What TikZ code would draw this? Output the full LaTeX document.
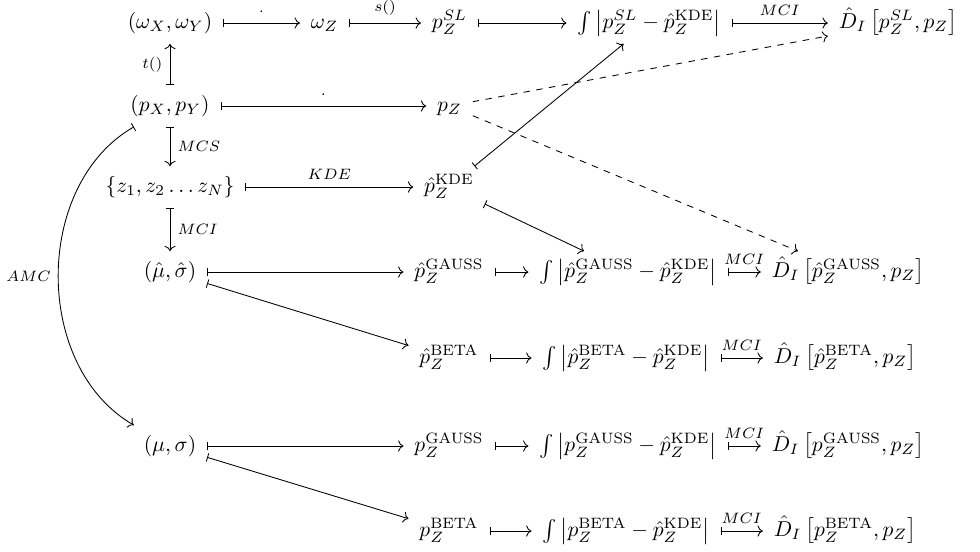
\documentclass[tikz,border=0pt]{standalone}
\usetikzlibrary{arrows.meta}
\begin{document}
\begin{tikzpicture}[x=0.465pt, y=-0.465pt,
  obj/.style={inner xsep=4.9pt, inner ysep=3pt, text height=9pt, text depth=4pt},
  mapto/.style={{Bar[width=4pt]}-{Computer Modern Rightarrow}},
  dasharrow/.style={dashed, -{Computer Modern Rightarrow}},
  lbl/.style={font=\scriptsize},
]
\useasboundingbox (0,0) rectangle (980,551);
% row 1
\node[obj] (omXY) at (170,23) {$(\omega_X, \omega_Y)$};
\node[obj] (omZ) at (324.5,23) {$\omega_Z$};
\node[obj] (pSL) at (449.5,23) {$p_Z^{SL}$};
\node[obj] (intSL) at (649,23) {$\int \left|p_Z^{SL} - \hat{p}_Z^{\mathrm{KDE}}\right|$};
\node[obj] (DSL) at (898,23) {$\hat{D}_I \left[p_Z^{SL}, p_Z\right]$};
% row 2
\node[obj] (pXY) at (170,106) {$(p_X, p_Y)$};
\node[obj] (pZ) at (449.5,106) {$p_Z$};
% row 3
\node[obj] (zs) at (170,187) {$\{z_1, z_2 \ldots z_N\}$};
\node[obj] (kde) at (449,187) {$\hat{p}_Z^{\mathrm{KDE}}$};
% row 4
\node[obj] (muh) at (170,272) {$(\hat{\mu}, \hat{\sigma})$};
\node[obj] (gh) at (449,272) {$\hat{p}_Z^{\mathrm{GAUSS}}$};
\node[obj] (igh) at (628,272) {$\int \left|\hat{p}_Z^{\mathrm{GAUSS}} - \hat{p}_Z^{\mathrm{KDE}}\right|$};
\node[obj] (Dgh) at (848,272) {$\hat{D}_I \left[\hat{p}_Z^{\mathrm{GAUSS}}, p_Z\right]$};
% row 5
\node[obj] (bh) at (449,358) {$\hat{p}_Z^{\mathrm{BETA}}$};
\node[obj] (ibh) at (626,358) {$\int \left|\hat{p}_Z^{\mathrm{BETA}} - \hat{p}_Z^{\mathrm{KDE}}\right|$};
\node[obj] (Dbh) at (845,358) {$\hat{D}_I \left[\hat{p}_Z^{\mathrm{BETA}}, p_Z\right]$};
% row 6
\node[obj] (mu) at (170,446) {$(\mu, \sigma)$};
\node[obj] (g) at (449,446) {$p_Z^{\mathrm{GAUSS}}$};
\node[obj] (ig) at (628,446) {$\int \left|p_Z^{\mathrm{GAUSS}} - \hat{p}_Z^{\mathrm{KDE}}\right|$};
\node[obj] (Dg) at (848,446) {$\hat{D}_I \left[p_Z^{\mathrm{GAUSS}}, p_Z\right]$};
% row 7
\node[obj] (b) at (449,531) {$p_Z^{\mathrm{BETA}}$};
\node[obj] (ib) at (626,531) {$\int \left|p_Z^{\mathrm{BETA}} - \hat{p}_Z^{\mathrm{KDE}}\right|$};
\node[obj] (Db) at (845,531) {$\hat{D}_I \left[p_Z^{\mathrm{BETA}}, p_Z\right]$};

% connectors
\draw[mapto] (omXY) -- node[lbl, above] {$\cdot$} (omZ);
\draw[mapto] (omZ) -- node[lbl, above] {$s()$} (pSL);
\draw[mapto] (pSL) -- (intSL);
\draw[mapto] (intSL) -- node[lbl, above] {$MCI$} (DSL);
\draw[mapto] (pXY) -- node[lbl, left] {$t()$} (omXY);
\draw[mapto] (pXY) -- node[lbl, above] {$\cdot$} (pZ);
\draw[dasharrow] (pZ) -- (DSL);
\draw[dasharrow] (pZ) -- (Dgh);
\draw[mapto] (pXY) -- node[lbl, right] {$MCS$} (zs);
\draw[mapto] (zs) -- node[lbl, above] {$KDE$} (kde);
\draw[mapto] (kde) -- (intSL);
\draw[mapto] (kde) -- (igh);
\draw[mapto] (zs) -- node[lbl, right] {$MCI$} (muh);
\draw[mapto] (muh) -- (gh);
\draw[mapto] (muh) -- (bh);
\draw[mapto] (gh) -- (igh);
\draw[mapto] (igh) -- node[lbl, above] {$MCI$} (Dgh);
\draw[mapto] (bh) -- (ibh);
\draw[mapto] (ibh) -- node[lbl, above] {$MCI$} (Dbh);
\draw[mapto] (pXY) to[bend right=60] node[lbl, left] {$AMC$} (mu);
\draw[mapto] (mu) -- (g);
\draw[mapto] (mu) -- (b);
\draw[mapto] (g) -- (ig);
\draw[mapto] (ig) -- node[lbl, above] {$MCI$} (Dg);
\draw[mapto] (b) -- (ib);
\draw[mapto] (ib) -- node[lbl, above] {$MCI$} (Db);
\end{tikzpicture}
\end{document}
